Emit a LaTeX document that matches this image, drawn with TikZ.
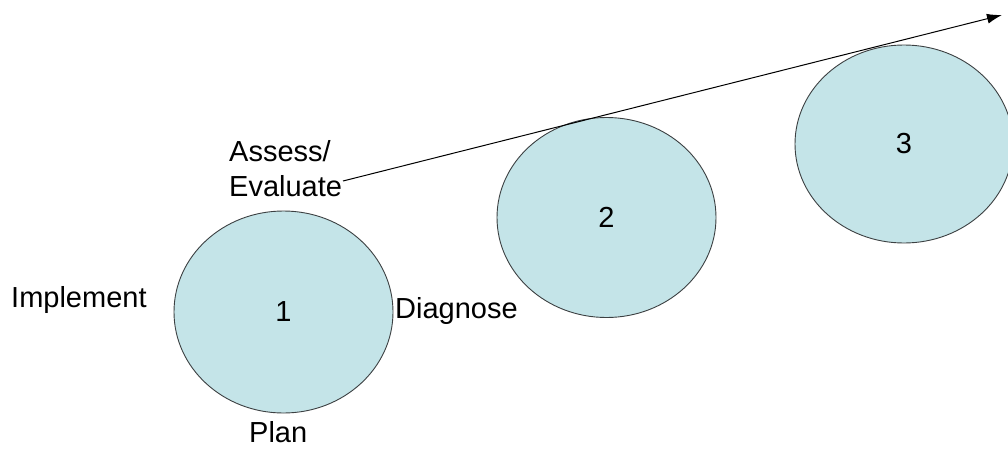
\documentclass[tikz,border=0pt]{standalone}
\usepackage{fontspec}
\setmainfont{Liberation Sans}
\usetikzlibrary{arrows.meta,shapes.geometric}
\definecolor{stagefill}{RGB}{196,228,232}
\definecolor{stageline}{RGB}{60,64,66}
\begin{document}
\begin{tikzpicture}[x=1pt,y=-1pt,
  stage/.style={ellipse,draw=stageline,line width=0.9pt,fill=stagefill,
    minimum width=219pt,minimum height=200pt,inner sep=0pt,
    font=\fontsize{29}{34}\selectfont},
  lbl/.style={inner sep=0pt,font=\fontsize{29}{35}\selectfont}]
\useasboundingbox (0,0) rectangle (1008,450);
% stages of the cycle
\node[stage,minimum height=202pt] (s1) at (283.5,312) {1};
\node[stage] (s2) at (606.5,217.5) {2};
\node[stage,minimum width=218pt,minimum height=198pt] (s3) at (904,144) {3};
% phase labels around the first stage
\node[lbl,align=left,anchor=north west] (assess) at (229,140) {Assess/\\Evaluate};
\node[lbl,anchor=west] (impl) at (11,300) {Implement};
\node[lbl,anchor=west] (diag) at (395,311) {Diagnose};
\node[lbl,anchor=north west] (plan) at (249,421) {Plan};
% progression arrow
\coordinate (a0) at (343,181);
\coordinate (a1) at (1002,15);
\draw[line width=1pt,-{Latex[length=15pt,width=10pt]}] (a0) -- (a1);
\end{tikzpicture}
\end{document}
